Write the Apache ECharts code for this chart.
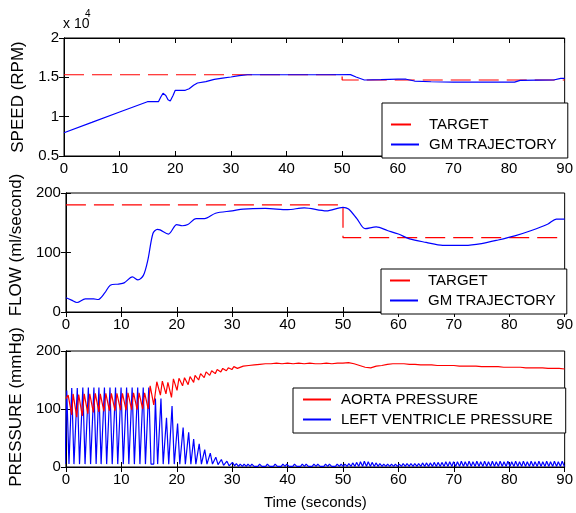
<!DOCTYPE html>
<html><head><meta charset="utf-8">
<script src="https://cdn.jsdelivr.net/npm/echarts@6/dist/echarts.min.js"></script>
<style>html,body{margin:0;padding:0;background:#fff}#c{width:576px;height:513px}</style>
</head><body><div id="c"></div>
<script>
// ---------- data ----------
const timeTicks = [0, 10, 20, 30, 40, 50, 60, 70, 80, 90];
const speedTickLabels = ['0.5', '1', '1.5', '2'];

const speedTargetT = [0, 50, 50, 90];
const speedTargetV = [15330, 15330, 14660, 14660];
const speedT = [0, 5, 10, 15, 17, 17.4, 17.8, 18.3, 18.7, 19.1, 19.6, 20, 21.8, 22.5, 23.3, 24, 25.5, 27, 28.5, 30, 31.5, 33, 46.8, 47, 47.2, 51.5, 52.5, 54, 57, 60, 61.5, 63, 66, 70, 75, 81, 82, 85, 88, 89.3, 90];
const speedV = [7960, 9270, 10590, 11900, 11920, 12500, 12970, 12700, 12150, 12000, 12700, 13350, 13350, 13550, 14000, 14280, 14450, 14750, 14900, 15040, 15220, 15330, 15330, 15260, 15330, 15340, 15050, 14660, 14700, 14780, 14760, 14530, 14440, 14400, 14400, 14400, 14620, 14640, 14660, 14870, 14870];

const flowTargetT = [0, 50, 50, 90];
const flowTargetV = [180, 180, 125, 125];
const flowT = [0, 1, 2, 3.5, 5, 5.8, 7, 8, 9.5, 10.5, 12, 13, 14, 14.8, 15.7, 16.5, 17, 18.5, 20, 21, 22, 23.5, 25, 27, 30, 32, 36, 40, 43, 47, 50, 51, 52.5, 54, 56, 58, 60, 62, 65, 68, 72, 75, 78, 81, 84, 87, 88.5, 90];
const flowV = [24, 20, 16, 22, 22, 21, 32, 45, 47, 49, 59, 54, 62, 88, 132, 139, 138, 131, 147, 145, 147, 157, 157, 166, 170, 173, 174, 172, 175, 170, 176, 173, 157, 140, 143, 137, 131, 123, 117, 112, 112, 115, 121, 128, 137, 148, 156, 156];

// left ventricle: beat peak times, peak pressures, diastolic base pressures
const lvPeakT = [0.2, 1.1, 2.1, 3.1, 4.1, 5.1, 6.0, 7.0, 8.0, 9.0, 10.0, 11.0, 12.0, 13.0, 14.0, 15.0,
  16.2, 17.2, 18.2, 19.2, 20.2, 21.2, 22.2, 23.1, 24.1, 25.1, 26.1, 27.1, 28.1, 29.1, 30.1,
  30.8, 31.5, 32.2, 32.9, 33.6, 34.3, 35.0, 35.7, 36.4, 37.1, 37.8, 38.5, 39.2, 39.9, 40.6, 41.3, 42.0, 42.7, 43.4, 44.1, 44.8, 45.5, 46.2, 46.9, 47.6, 48.3, 49.0, 49.7,
  50.4, 51.1, 51.8, 52.5, 53.2, 53.9, 54.6, 55.3, 56.0, 56.7, 57.4, 58.1, 58.8, 59.5, 60.2, 60.9, 61.6, 62.3, 63.0, 63.7, 64.4, 65.1, 65.8, 66.5, 67.2, 67.9, 68.6, 69.3, 70.0,
  70.7, 71.4, 72.1, 72.8, 73.5, 74.2, 74.9, 75.6, 76.3, 77.0, 77.7, 78.4, 79.1, 79.8, 80.5, 81.2, 81.9, 82.6, 83.3, 84.0, 84.7, 85.4, 86.1, 86.8, 87.5, 88.2, 88.9, 89.6];
const lvPeakV = [132, 136, 136, 137, 137, 137, 137, 137, 137, 137, 137, 137, 137, 137, 137, 137,
  118, 118, 85, 105, 75, 68, 60, 48, 40, 30, 24, 17, 13, 10, 8,
  6, 5, 5, 5, 5, 4, 5, 4, 5, 4, 5, 4, 5, 5, 4, 5, 4, 5, 5, 4, 5, 5, 4, 5, 5, 4, 5, 5,
  5, 6, 7, 8, 9, 10, 9, 8, 7, 6, 5, 5, 5, 5, 5, 6, 6, 6, 6, 6, 7, 7, 7, 8, 8, 8, 9, 9, 9,
  9, 10, 9, 10, 9, 10, 9, 10, 9, 10, 9, 10, 9, 10, 9, 10, 9, 10, 9, 10, 9, 10, 9, 10, 9, 10, 9, 10];
const lvBaseV = [5, 5, 5, 5, 5, 5, 5, 5, 5, 5, 5, 5, 5, 5, 5, 5,
  5, 5, 5, 5, 5, 5, 5, 5, 5, 5, 5, 4, 3, 2, 2,
  1, 1, 1, 1, 1, 1, 1, 1, 1, 1, 1, 1, 1, 1, 1, 1, 1, 1, 1, 1, 1, 1, 1, 1, 1, 1, 1, 1,
  1, 1, 1, 1, 1, 1, 1, 1, 1, 1, 1, 1, 1, 1, 1, 1, 1, 1, 1, 1, 1, 1, 1, 1, 1, 1, 1, 1, 1,
  1, 1, 1, 1, 1, 1, 1, 1, 1, 1, 1, 1, 1, 1, 1, 1, 1, 1, 1, 1, 1, 1, 1, 1, 1, 1, 1, 1];

// aorta: per-beat systolic / diastolic values (first 31 beats), then slow tail
const aoPeakV = [124, 126, 125, 126, 126, 127, 126, 127, 127, 127, 127, 128, 128, 128, 128, 140, 147, 148, 146, 152, 153, 154, 156, 158, 161, 164, 166, 168, 170, 171, 173];
const aoTroughV = [90, 86, 88, 92, 94, 95, 96, 97, 97, 98, 98, 99, 99, 100, 100, 107, 124, 126, 120, 132, 140, 142, 146, 150, 154, 158, 161, 164, 166, 168, 170];
const aoTailT = [32, 33, 34, 35, 36, 37, 38, 39, 40, 41, 42, 43, 44, 45, 46, 47, 48, 49, 50, 51, 52, 53, 54, 55, 56, 57, 58, 59, 60, 61, 62, 63, 64, 65, 66, 67, 68, 69, 70, 71, 72, 73, 74, 75, 76, 77, 78, 79, 80, 81, 82, 83, 84, 85, 86, 87, 88, 89, 90];
const aoTailV = [174, 175, 176, 177, 178, 178, 179, 178, 179, 178, 179, 178, 179, 178, 178, 179, 178, 179, 179, 180, 178, 175, 172, 171, 174, 175, 177, 178, 178, 178, 177, 177, 176, 176, 176, 175, 175, 175, 175, 174, 174, 174, 174, 173, 173, 173, 173, 172, 172, 172, 172, 171, 171, 171, 171, 170, 170, 170, 169];

// ---------- build series data ----------
const zip = (t, v) => t.map((x, i) => [x, v[i]]);
const lvData = [];
lvPeakT.forEach((t, i) => {
  lvData.push([t - 0.35, lvBaseV[i]], [t - 0.05, lvPeakV[i]], [t + 0.05, lvPeakV[i]], [t + 0.35, lvBaseV[i]]);
});
const aoData = [[0, 118]];
aoPeakV.forEach((v, i) => {
  aoData.push([lvPeakT[i] + 0.2, v], [lvPeakT[i] + 0.85, aoTroughV[i]]);
});
aoTailT.forEach((t, i) => aoData.push([t, aoTailV[i]]));

// ---------- chart ----------
const FONT = 'Liberation Sans, Arial, Helvetica, sans-serif';
const RED = '#ff0000', BLUE = '#0000ff';
const grids = [
  { left: 64, top: 38, width: 503, height: 118 },
  { left: 64, top: 193, width: 503, height: 119 },
  { left: 64, top: 351, width: 503, height: 116 }
].map(g => Object.assign(g, { show: true, borderColor: '#000', borderWidth: 1, backgroundColor: '#fff' }));

const tickStyle = { inside: true, length: 5, lineStyle: { color: '#000' } };
const lineAx = { lineStyle: { color: '#000', width: 1 } };
const lbl = { color: '#000', fontSize: 15, fontFamily: FONT };

const xAxes = [];
for (let i = 0; i < 3; i++) {
  xAxes.push({
    type: 'value', gridIndex: i, min: timeTicks[0], max: timeTicks[timeTicks.length - 1], interval: 10,
    axisLine: lineAx, axisTick: tickStyle, splitLine: { show: false },
    axisLabel: Object.assign({ margin: 5 }, lbl),
    name: i === 2 ? 'Time (seconds)' : '', nameLocation: 'middle', nameGap: 28,
    nameTextStyle: { color: '#000', fontSize: 15, fontFamily: FONT }
  });
}
for (let i = 0; i < 3; i++) {
  xAxes.push({
    type: 'value', gridIndex: i, position: 'top', min: 0, max: 90, interval: 10,
    axisLine: lineAx, axisTick: tickStyle, splitLine: { show: false }, axisLabel: { show: false }
  });
}
const yDefs = [
  { min: 5000, max: 20000, interval: 5000, name: 'SPEED (RPM)', fmt: v => speedTickLabels[Math.round((v - 5000) / 5000)], pad: [0, 0, 0, 0] },
  { min: 0, max: 200, interval: 100, name: 'FLOW (ml/second)', fmt: v => String(v), pad: [0, 0, 0, 15] },
  { min: 0, max: 200, interval: 100, name: 'PRESSURE (mmHg)', fmt: v => String(v), pad: [0, 0, 0, 4] }
];
const yAxes = [];
yDefs.forEach((d, i) => {
  yAxes.push({
    type: 'value', gridIndex: i, min: d.min, max: d.max, interval: d.interval,
    axisLine: Object.assign({ show: true }, lineAx), axisTick: Object.assign({ show: true }, tickStyle), splitLine: { show: false },
    axisLabel: Object.assign({ margin: 5, formatter: d.fmt }, lbl),
    name: d.name, nameLocation: 'middle', nameGap: 34,
    nameTextStyle: { color: '#000', fontSize: 17, fontFamily: FONT, padding: d.pad }
  });
});
yDefs.forEach((d, i) => {
  yAxes.push({
    type: 'value', gridIndex: i, position: 'right', min: d.min, max: d.max, interval: d.interval,
    axisLine: Object.assign({ show: true }, lineAx), axisTick: Object.assign({ show: true }, tickStyle), splitLine: { show: false },
    axisLabel: { show: false }
  });
});

const legendBase = {
  orient: 'vertical', itemWidth: 28, itemHeight: 14, itemGap: 5,
  borderColor: '#000', borderWidth: 1, borderRadius: 0, backgroundColor: '#fff',
  textStyle: { color: '#000', fontSize: 15, fontFamily: FONT, padding: [0, 0, 0, 5] },
  itemStyle: { color: 'rgba(0,0,0,0)', borderColor: 'rgba(0,0,0,0)', borderWidth: 0, opacity: 0 },
  selectedMode: false
};
const dash = [20, 8];
const option = {
  animation: false,
  backgroundColor: '#fff',
  grid: grids,
  xAxis: xAxes,
  yAxis: yAxes,
  legend: [
    Object.assign({}, legendBase, { left: 382, top: 103, padding: [14, 11, 6, 8], data: ['TARGET', 'GM TRAJECTORY'] }),
    Object.assign({}, legendBase, { left: 381, top: 269, padding: [4, 11, 6, 8], data: ['TARGET', 'GM TRAJECTORY'] }),
    Object.assign({}, legendBase, { left: 293, top: 388, padding: [4, 13, 6, 9], data: ['AORTA PRESSURE', 'LEFT VENTRICLE PRESSURE'] })
  ],
  graphic: [
    { type: 'text', left: 63, top: 17, style: { text: 'x 10', fill: '#000', font: '14px ' + FONT } },
    { type: 'text', left: 85, top: 9, style: { text: '4', fill: '#000', font: '10px ' + FONT } }
  ],
  series: [
    { name: 'TARGET', type: 'line', xAxisIndex: 0, yAxisIndex: 0, symbol: 'none', data: zip(speedTargetT, speedTargetV), lineStyle: { color: RED, width: 1.2, type: dash }, itemStyle: { color: RED } },
    { name: 'GM TRAJECTORY', type: 'line', xAxisIndex: 0, yAxisIndex: 0, symbol: 'none', data: zip(speedT, speedV), lineStyle: { color: BLUE, width: 1.2 }, itemStyle: { color: BLUE } },
    { name: 'TARGET', type: 'line', xAxisIndex: 1, yAxisIndex: 1, symbol: 'none', data: zip(flowTargetT, flowTargetV), lineStyle: { color: RED, width: 1.2, type: dash }, itemStyle: { color: RED } },
    { name: 'GM TRAJECTORY', type: 'line', xAxisIndex: 1, yAxisIndex: 1, symbol: 'none', smooth: 0.3, data: zip(flowT, flowV), lineStyle: { color: BLUE, width: 1.2 }, itemStyle: { color: BLUE } },
    { name: 'LEFT VENTRICLE PRESSURE', type: 'line', xAxisIndex: 2, yAxisIndex: 2, symbol: 'none', data: lvData, lineStyle: { color: BLUE, width: 1.2 }, itemStyle: { color: BLUE } },
    { name: 'AORTA PRESSURE', type: 'line', xAxisIndex: 2, yAxisIndex: 2, symbol: 'none', data: aoData, lineStyle: { color: RED, width: 1.2 }, itemStyle: { color: RED } }
  ]
};
const chart = echarts.init(document.getElementById('c'), null, { renderer: 'canvas' });
chart.setOption(option);
</script>
</body></html>
